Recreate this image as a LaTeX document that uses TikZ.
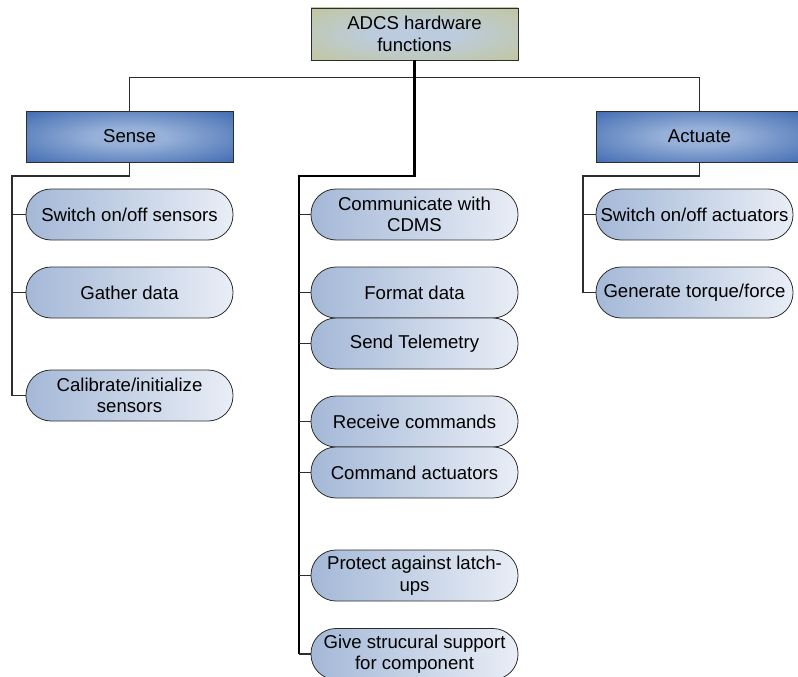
\documentclass[tikz,border=0pt]{standalone}
\usepackage{fontspec}
\setmainfont{Liberation Sans}
\usetikzlibrary{calc}

\definecolor{boxline}{RGB}{45,45,45}
\definecolor{olivebox}{RGB}{194,197,148}
\definecolor{olivemid}{RGB}{188,204,222}
\definecolor{senseblue}{RGB}{58,102,175}
\definecolor{sensemid}{RGB}{150,176,216}
\definecolor{pillleft}{RGB}{164,184,215}
\definecolor{pillright}{RGB}{233,238,246}

\pgfdeclareradialshading{oliveglow}{\pgfpoint{0bp}{0bp}}{%
  color(0bp)=(olivemid); color(10bp)=(olivemid);
  color(40bp)=(olivebox); color(50bp)=(olivebox)}
\pgfdeclareradialshading{blueglow}{\pgfpoint{0bp}{0bp}}{%
  color(0bp)=(sensemid); color(9bp)=(sensemid);
  color(38bp)=(senseblue); color(50bp)=(senseblue)}

\tikzset{
  rootbox/.style={draw=boxline, line width=0.8pt, shading=oliveglow,
    minimum width=207pt, minimum height=52pt, align=center, inner sep=0pt},
  groupbox/.style={draw=boxline, line width=0.8pt, shading=blueglow,
    minimum width=207pt, minimum height=51pt, align=center, inner sep=0pt},
  taskpill/.style={draw=boxline, line width=0.8pt, rounded corners=25pt,
    left color=pillleft, right color=pillright,
    minimum width=207pt, minimum height=51pt, align=center, inner sep=0pt},
  thinwire/.style={draw=boxline, line width=1.2pt},
  thickwire/.style={draw=black, line width=2.2pt}
}

\begin{document}
\begin{tikzpicture}[x=1pt,y=-1pt,font=\fontsize{18.6}{21.5}\selectfont]
  \useasboundingbox (0,0) rectangle (798,677);

  % top level
  \node[rootbox]  (adcs)    at (414.5,34)  {ADCS hardware\\functions};
  \node[groupbox] (sense)   at (129.5,136.5) {Sense};
  \node[groupbox] (actuate) at (699.5,136.5) {Actuate};

  % sense column
  \node[taskpill] (swsens)  at (129.5,214.5) {Switch on/off sensors};
  \node[taskpill] (gather)  at (129.5,292.5) {Gather data};
  \node[taskpill] (calib)   at (129.5,395.5) {Calibrate/initialize\\sensors};

  % middle column
  \node[taskpill] (cdms)    at (414.5,214.5) {Communicate with\\CDMS};
  \node[taskpill] (format)  at (414.5,292.5) {Format data};
  \node[taskpill] (telem)   at (414.5,343.5) {Send Telemetry};
  \node[taskpill] (recv)    at (414.5,421.5) {Receive commands};
  \node[taskpill] (cmdact)  at (414.5,472.5) {Command actuators};
  \node[taskpill] (latch)   at (414.5,575.5) {Protect against latch-\\ups};
  \node[taskpill] (support) at (414.5,654)   {Give strucural support\\for component};

  % actuate column
  \node[taskpill, minimum width=197pt] (swact)  at (694.5,214.5) {Switch on/off actuators};
  \node[taskpill, minimum width=197pt] (torque) at (694.5,292.5) {Generate torque/force};

  \coordinate (strunk) at (12,176);
  \coordinate (mtrunk) at (299,176);
  \coordinate (atrunk) at (583,176);

  % wires
  \draw[thinwire] (sense.north) -- ++(0,-33) -| (actuate.north);
  \draw[thickwire] (adcs.south) |- (mtrunk) -- (mtrunk |- support.west);
  \draw[thinwire] (sense.south) |- (strunk) -- (strunk |- calib.west);
  \draw[thinwire] (actuate.south) |- (atrunk) -- (atrunk |- torque.west);

  \foreach \t in {swsens,gather,calib}
    \draw[thinwire] (strunk |- \t.west) -- (\t.west);
  \foreach \t in {cdms,format,telem,recv,cmdact,latch,support}
    \draw[thinwire] (mtrunk |- \t.west) -- (\t.west);
  \foreach \t in {swact,torque}
    \draw[thinwire] (atrunk |- \t.west) -- (\t.west);

\end{tikzpicture}
\end{document}
